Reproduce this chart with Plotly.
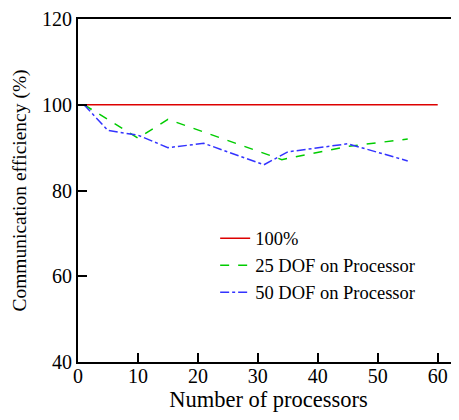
import plotly.graph_objects as go

# Data
ref_x = [1, 60]
ref_y = [100, 100]

dof25_x = [1, 10, 15, 34, 45, 55]
dof25_y = [100, 92.2, 96.6, 87.2, 90.3, 92.0]

dof50_x = [1, 5, 10, 15, 21, 31, 35, 45, 55]
dof50_y = [100, 94.0, 92.9, 90.0, 91.0, 86.0, 89.0, 90.9, 86.9]

x_ticks = [0, 10, 20, 30, 40, 50, 60]
y_ticks = [40, 60, 80, 100, 120]

FONT = "Liberation Serif, Times New Roman, serif"

fig = go.Figure()
fig.add_trace(go.Scatter(x=ref_x, y=ref_y, mode="lines", name="100%",
                         line=dict(color="#dd0000", width=1.5)))
fig.add_trace(go.Scatter(x=dof25_x, y=dof25_y, mode="lines", name="25 DOF on Processor",
                         line=dict(color="#00cc00", width=1.5, dash="dash")))
fig.add_trace(go.Scatter(x=dof50_x, y=dof50_y, mode="lines", name="50 DOF on Processor",
                         line=dict(color="#3333ff", width=1.5, dash="dashdot")))

# page body has an 8px margin, so the figure is shifted by 8px
fig.update_layout(
    width=451, height=412,
    margin=dict(l=70, r=0, t=11, b=58, autoexpand=False),
    paper_bgcolor="white", plot_bgcolor="white",
    font=dict(family=FONT, size=18, color="black"),
    showlegend=True,
    legend=dict(x=0.36, y=0.415, xanchor="left", yanchor="top",
                bgcolor="rgba(0,0,0,0)", font=dict(family=FONT, size=18.5, color="black"),
                tracegroupgap=0),
)
fig.update_xaxes(
    range=[0, 63.55], tickvals=x_ticks, ticks="inside", ticklen=9, tickwidth=1.5,
    tickcolor="black", showline=True, linecolor="black", linewidth=2, mirror=True,
    showgrid=False, zeroline=False, automargin=False, ticklabelstandoff=-5,
    title=dict(text="Number of processors", font=dict(family=FONT, size=22.5, color="black"), standoff=0),
    tickfont=dict(family=FONT, size=20, color="black"),
)
fig.update_yaxes(
    range=[40, 120], tickvals=y_ticks, ticks="inside", ticklen=9, tickwidth=1.5,
    tickcolor="black", showline=True, linecolor="black", linewidth=2, mirror=False,
    showgrid=False, zeroline=False, automargin=False, ticklabeloverflow="allow",
    title=dict(text="Communication efficiency (%)", font=dict(family=FONT, size=19.5, color="black"), standoff=10),
    tickfont=dict(family=FONT, size=20, color="black"),
)

fig.write_html("out.html")
